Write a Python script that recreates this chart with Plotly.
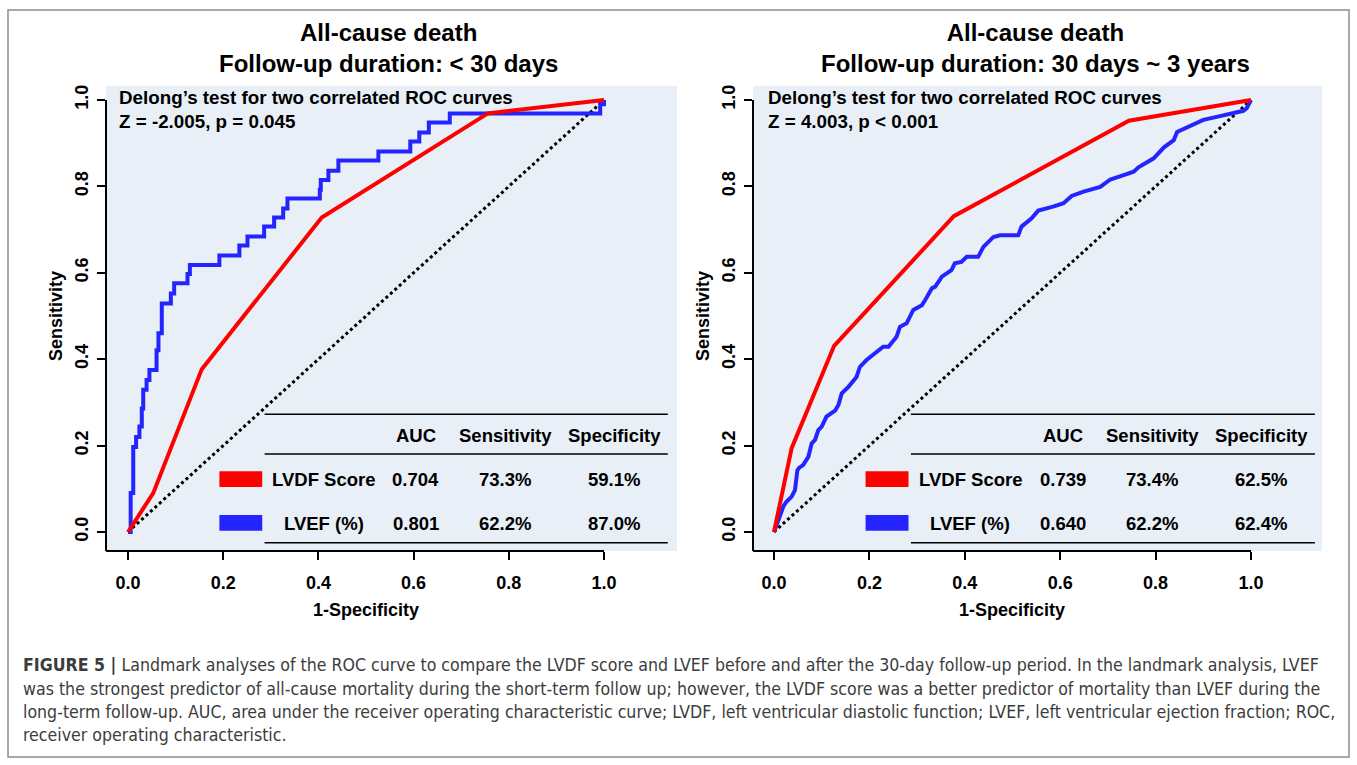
import plotly.graph_objects as go

# ---------------- data ----------------
tick_vals = [0.0, 0.2, 0.4, 0.6, 0.8, 1.0]
tick_text = ["0.0", "0.2", "0.4", "0.6", "0.8", "1.0"]

# Panel A: follow-up < 30 days
lvdf_a_fpr = [0.0, 0.053, 0.155, 0.407, 0.756, 1.0]
lvdf_a_tpr = [0.0, 0.090, 0.377, 0.728, 0.969, 1.0]
lvef_a_fpr = [0.0, 0.0056, 0.011, 0.017, 0.024, 0.029, 0.032, 0.039, 0.045,
              0.060, 0.064, 0.071, 0.090, 0.097, 0.125, 0.130, 0.192, 0.234,
              0.251, 0.286, 0.307, 0.326, 0.335, 0.403, 0.405, 0.421, 0.442,
              0.526, 0.593, 0.612, 0.632, 0.676, 0.992, 1.0]
lvef_a_tpr = [0.0, 0.090, 0.197, 0.220, 0.244, 0.286, 0.329, 0.352, 0.375,
              0.421, 0.460, 0.529, 0.552, 0.576, 0.597, 0.618, 0.640, 0.663,
              0.684, 0.707, 0.728, 0.749, 0.772, 0.792, 0.815, 0.836, 0.860,
              0.881, 0.904, 0.925, 0.948, 0.969, 0.990, 1.0]

# Panel B: follow-up 30 days ~ 3 years
lvdf_b_fpr = [0.0, 0.037, 0.126, 0.377, 0.744, 1.0]
lvdf_b_tpr = [0.0, 0.194, 0.431, 0.731, 0.952, 1.0]
lvef_b_fpr = [0.0, 0.009, 0.0196, 0.026, 0.037, 0.044, 0.049, 0.053, 0.061, 0.072,
              0.079, 0.086, 0.093, 0.100, 0.110, 0.128, 0.135, 0.142, 0.156, 0.173,
              0.180, 0.194, 0.212, 0.229, 0.240, 0.257, 0.264, 0.278, 0.292, 0.310,
              0.317, 0.331, 0.338, 0.352, 0.372, 0.379, 0.393, 0.404, 0.428, 0.439,
              0.460, 0.474, 0.512, 0.519, 0.540, 0.554, 0.585, 0.607, 0.624, 0.649,
              0.684, 0.705, 0.733, 0.754, 0.764, 0.796, 0.817, 0.838, 0.845, 0.865,
              0.900, 0.928, 0.956, 0.984, 0.991, 1.0]
lvef_b_tpr = [0.0, 0.028, 0.059, 0.070, 0.082, 0.097, 0.143, 0.149, 0.155, 0.174,
              0.205, 0.213, 0.236, 0.244, 0.267, 0.281, 0.294, 0.321, 0.336, 0.359,
              0.382, 0.398, 0.413, 0.429, 0.429, 0.452, 0.475, 0.483, 0.514, 0.525,
              0.537, 0.564, 0.568, 0.591, 0.606, 0.622, 0.625, 0.637, 0.637, 0.660,
              0.683, 0.687, 0.687, 0.707, 0.726, 0.744, 0.753, 0.761, 0.778, 0.788,
              0.799, 0.816, 0.826, 0.834, 0.844, 0.865, 0.890, 0.907, 0.926, 0.937,
              0.954, 0.961, 0.969, 0.975, 0.981, 1.0]

titles = ["All-cause death<br>Follow-up duration: < 30 days",
          "All-cause death<br>Follow-up duration: 30 days ~ 3 years"]
delong_line1 = "Delong\u2019s test for two correlated ROC curves"
delong_line2 = ["Z = -2.005, p = 0.045", "Z = 4.003, p < 0.001"]

table_header = ["AUC", "Sensitivity", "Specificity"]
row_labels = ["LVDF Score", "LVEF (%)"]
auc = [["0.704", "0.801"], ["0.739", "0.640"]]
sens = [["73.3%", "62.2%"], ["73.4%", "62.2%"]]
spec = [["59.1%", "87.0%"], ["62.5%", "62.4%"]]

caption_lines = [
    "<b>FIGURE 5 |</b> Landmark analyses of the ROC curve to compare the LVDF score and LVEF before and after the 30-day follow-up period. In the landmark analysis, LVEF",
    "was the strongest predictor of all-cause mortality during the short-term follow up; however, the LVDF score was a better predictor of mortality than LVEF during the",
    "long-term follow-up. AUC, area under the receiver operating characteristic curve; LVDF, left ventricular diastolic function; LVEF, left ventricular ejection fraction; ROC,",
    "receiver operating characteristic.",
]

# ---------------- geometry / style ----------------
W, H = 1357, 765
RED = "#ff0000"
BLUE = "#2424ff"
BG = "#e9eff7"
FONT = "Liberation Sans, Arial, sans-serif"

panels = [
    dict(left=106, right=677, x0px=128, unit=476, xa="x", ya="y"),
    dict(left=753, right=1322, x0px=774, unit=477, xa="x2", ya="y2"),
]
TOP, BOTTOM, Y0PX, YUNIT = 86, 551, 532, 432


def pxx(v):
    return v / W


def pxy(v):
    return 1 - v / H


fig = go.Figure()

curves = [
    (lvdf_a_fpr, lvdf_a_tpr, lvef_a_fpr, lvef_a_tpr, "hv"),
    (lvdf_b_fpr, lvdf_b_tpr, lvef_b_fpr, lvef_b_tpr, "linear"),
]

shapes = []
annotations = []
layout_axes = {}

for i, (p, c) in enumerate(zip(panels, curves)):
    xa, ya = p["xa"], p["ya"]
    xr = [(p["left"] - p["x0px"]) / p["unit"], (p["right"] - p["x0px"]) / p["unit"]]
    yr = [(Y0PX - BOTTOM) / YUNIT, (Y0PX - TOP) / YUNIT]

    fig.add_trace(go.Scatter(x=[0, 1], y=[0, 1], mode="lines", xaxis=xa, yaxis=ya,
                             line=dict(color="black", width=3, dash="dot"),
                             showlegend=False, hoverinfo="skip"))
    fig.add_trace(go.Scatter(x=c[2], y=c[3], mode="lines", xaxis=xa, yaxis=ya,
                             line=dict(color=BLUE, width=4, shape=c[4]),
                             name="LVEF (%)", showlegend=False))
    fig.add_trace(go.Scatter(x=c[0], y=c[1], mode="lines", xaxis=xa, yaxis=ya,
                             line=dict(color=RED, width=4),
                             name="LVDF Score", showlegend=False))

    suffix = "" if i == 0 else "2"
    layout_axes["xaxis" + suffix] = dict(
        domain=[pxx(p["left"]), pxx(p["right"])], range=xr, anchor=ya,
        tickvals=tick_vals, ticktext=tick_text, ticks="outside", ticklen=8,
        tickwidth=2, tickcolor="black", showline=False, showgrid=False,
        zeroline=False, ticklabelstandoff=7, automargin=False,
        tickfont=dict(family=FONT, size=18, color="black", weight="bold"))
    layout_axes["yaxis" + suffix] = dict(
        domain=[pxy(BOTTOM), pxy(TOP)], range=yr, anchor=xa,
        tickvals=tick_vals, ticktext=tick_text, ticks="outside", ticklen=8,
        tickwidth=2, tickcolor="black", showline=False, showgrid=False,
        zeroline=False, tickangle=-90, ticklabelstandoff=2, automargin=False,
        tickfont=dict(family=FONT, size=18, color="black", weight="bold"))

    # L-shaped axis lines ending at the 1.0 tick
    shapes.append(dict(type="line", xref=xa + " domain", yref=ya, x0=0, x1=0,
                       y0=yr[0], y1=1.0, line=dict(color="black", width=2)))
    shapes.append(dict(type="line", xref=xa, yref=ya + " domain", x0=xr[0], x1=1.0,
                       y0=0, y1=0, line=dict(color="black", width=2)))

    # table rules
    for yv in [0.2725, 0.1806, -0.0248]:
        shapes.append(dict(type="line", xref=xa, yref=ya, x0=0.287, x1=1.134,
                           y0=yv, y1=yv, line=dict(color="black", width=1.5)))
    # legend keys
    shapes.append(dict(type="rect", xref=xa, yref=ya, x0=0.192, x1=0.282,
                       y0=0.1044, y1=0.1405, fillcolor=RED, line=dict(width=0)))
    shapes.append(dict(type="rect", xref=xa, yref=ya, x0=0.192, x1=0.282,
                       y0=0.0030, y1=0.0394, fillcolor=BLUE, line=dict(width=0)))

    tf = dict(family=FONT, size=18.5, color="black", weight="bold")
    for hx, ht in zip([0.605, 0.793, 1.021], table_header):
        annotations.append(dict(xref=xa, yref=ya, x=hx, y=0.2245, text=ht,
                                showarrow=False, font=tf, xanchor="center", yanchor="middle"))
    rows_y = [0.122, 0.020]
    for r in range(2):
        annotations.append(dict(xref=xa, yref=ya, x=0.411, y=rows_y[r], text=row_labels[r],
                                showarrow=False, font=tf, xanchor="center", yanchor="middle"))
        for vx, vt in zip([0.605, 0.793, 1.021], [auc[i][r], sens[i][r], spec[i][r]]):
            annotations.append(dict(xref=xa, yref=ya, x=vx, y=rows_y[r], text=vt,
                                    showarrow=False, font=tf, xanchor="center", yanchor="middle"))

    # titles
    cx = 388 if i == 0 else 1035
    annotations.append(dict(xref="paper", yref="paper", x=pxx(cx), y=pxy(48), text=titles[i],
                            showarrow=False, xanchor="center", yanchor="middle",
                            font=dict(family=FONT, size=24, color="black", weight="bold")))
    # Delong text
    lx = 117 if i == 0 else 766
    df = dict(family=FONT, size=18.8, color="black", weight="bold")
    annotations.append(dict(xref="paper", yref="paper", x=pxx(lx), y=pxy(98), text=delong_line1,
                            showarrow=False, xanchor="left", yanchor="middle", font=df))
    annotations.append(dict(xref="paper", yref="paper", x=pxx(lx), y=pxy(121), text=delong_line2[i],
                            showarrow=False, xanchor="left", yanchor="middle", font=df))
    # axis titles
    af = dict(family=FONT, size=18, color="black", weight="bold")
    annotations.append(dict(xref=xa, yref="paper", x=0.5, y=pxy(610), text="1-Specificity",
                            showarrow=False, xanchor="center", yanchor="middle", font=af))
    annotations.append(dict(xref="paper", yref=ya, x=pxx(p["left"] - 50), y=0.5, text="Sensitivity",
                            showarrow=False, xanchor="center", yanchor="middle", textangle=-90, font=af))

# caption
cap_font = dict(family="Liberation Sans Narrow, Arial Narrow, DejaVu Sans Condensed, sans-serif",
                size=17.6, color="#3c3c3c")
for k, (line, yc) in enumerate(zip(caption_lines, [665, 689, 712, 735])):
    annotations.append(dict(xref="paper", yref="paper", x=pxx(21), y=pxy(yc), text=line,
                            showarrow=False, xanchor="left", yanchor="middle", font=cap_font))

# outer frame
shapes.append(dict(type="rect", xref="paper", yref="paper", x0=pxx(8), x1=pxx(1349),
                   y0=pxy(757), y1=pxy(10), line=dict(color="#8c8c8c", width=1.5),
                   fillcolor="rgba(0,0,0,0)"))

fig.update_layout(
    width=W, height=H, margin=dict(l=0, r=0, t=0, b=0),
    paper_bgcolor="white", plot_bgcolor=BG, showlegend=False,
    shapes=shapes, annotations=annotations, **layout_axes)

fig.write_html("out.html")
